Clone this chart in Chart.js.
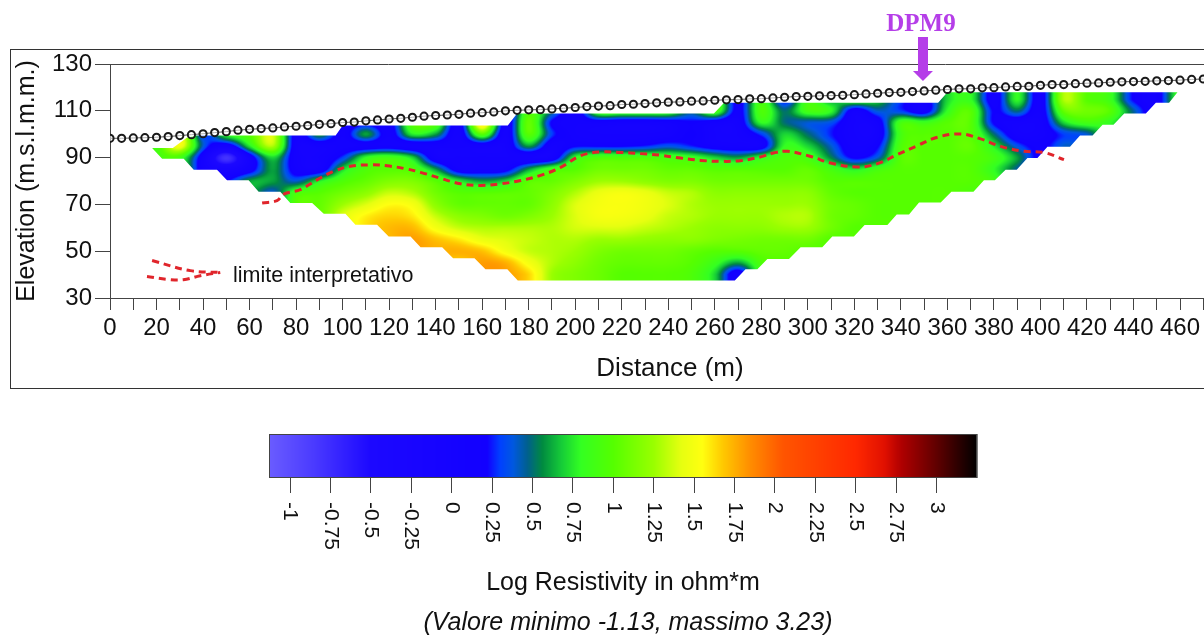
<!DOCTYPE html>
<html>
<head>
<meta charset="utf-8">
<title>Log Resistivity - DPM9</title>
<script src="https://cdn.jsdelivr.net/npm/chart.js@4"></script>
<style>
  body { margin: 0; background: #fff; overflow: hidden; }
  #wrap { position: relative; width: 1204px; height: 637px; overflow: hidden; }
  #frame { position: absolute; left: 10px; top: 49px; width: 1300px; height: 340px; border: 1px solid #333; box-sizing: border-box; }
  canvas { position: absolute; left: 0; }
  #section { top: 0; }
  #scaleBar { top: 410px; }
</style>
</head>
<body>
<div id="wrap">
  <div id="frame"></div>
  <!-- wider than the window: the axis runs off the right edge in the original -->
  <canvas id="section" width="1230" height="395"></canvas>
  <canvas id="scaleBar" width="1204" height="227"></canvas>
</div>
<script>
const N = null;

// electrodes: one every 5 m, from 0 m
const electrodeElev = [
  98.25,98.25,98.4,98.5,98.7,99,99.4,99.8,100.2,100.7,101.1,101.7,102.1,102.4,102.7,103.1,103.4,103.7,104.2,104.5,105,105.2,105.7,106.1,106.5,106.8,
  107.25,107.7,108,108.2,108.5,109,109.2,109.5,110,110.2,110.4,110.5,110.8,111.1,111.4,111.8,112,112.2,112.7,112.8,113.1,113.4,113.7,113.8,114.1,114.2,114.5,114.7,114.8,115.1,115.2,115.5,115.8,116.1,116.2,116.4,
  116.5,116.6,116.9,117.2,117.5,117.8,117.9,118.2,118.5,118.8,119.1,119.4,119.4,119.8,119.9,120.2,120.4,120.5,120.9,121.2,121.2,121.6,121.8,121.9,122.2,122.4,122.5,122.6,122.8,122.9,123.1,123.4,123.6
];

// log resistivity read from the section
const gridDist = [20,30,40,50,60,70,80,90,100,110,120,130,140,150,160,170,180,190,200,210,220,230,240,250,260,270,280,290,300,310,320,330,340,350,360,370,380,390,400,410,420,430,440,450,460];
const gridElev = [115,110,105,100,95,90,85,80,75,70,65,60,55,50,45,40];
const logRes = [
  [N,N,N,N,N,N,N,N,N,N,N,N,N,N,N,N,N,N,N,N,N,N,N,N,1.0,.15,.9,.2,.9,.6,.9,.7,.3,.1,.7,.8,.1,.8,.1,1.3,1.0,.85,.2,.1,.9],
  [N,N,N,N,N,N,N,N,N,N,N,N,N,N,N,N,.95,.5,.05,.95,.95,.95,.9,.5,.95,.15,.95,.5,.9,.8,.1,.4,.3,.1,.8,1.0,.2,.5,.1,1.05,1.1,1.0,.45,N,N],
  [N,N,N,N,N,N,N,N,.1,.15,.1,1.0,1.0,.1,1.7,.1,1.05,.2,.05,.1,.05,.05,.1,.2,.1,.05,.8,.5,.4,.35,0,.1,.9,.85,1.0,1.0,.2,.05,.05,.7,.9,.8,N,N,N],
  [N,N,.3,.8,1.0,1.4,.1,.6,.1,.6,.1,.75,.6,.05,1.0,.05,1.0,.3,.05,0,0,0,.05,.2,0,0,.3,.7,.5,.25,0,.05,.9,1.0,1.0,1.0,.5,.05,.05,.3,.4,N,N,N,N],
  [.9,1.5,.4,.05,.75,1.3,.05,.02,.05,.1,.1,.05,.05,0,.05,0,.6,.05,.2,.2,.2,.25,.35,.25,.1,.05,.1,.8,.7,.4,.05,.2,.95,1.0,1.0,1.05,.75,.35,.15,.4,N,N,N,N,N],
  [.9,.9,.05,-.8,.05,.7,.05,0,.3,.8,.9,.7,.05,0,0,0,0,.05,.8,.95,.95,.95,.9,.85,.7,.6,.8,.95,.9,.55,.2,.4,1.0,1.0,1.0,1.0,.9,.6,N,N,N,N,N,N,N],
  [N,N,.05,-.2,.1,.6,.1,.05,.7,.95,1.0,.95,.6,.1,.1,.15,.6,.9,1.0,1.1,1.1,1.1,1.05,1.05,1.0,1.0,1.0,1.0,1.05,.9,.75,.9,1.0,1.0,1.0,1.0,.8,.45,N,N,N,N,N,N,N],
  [N,N,N,.2,.6,.6,.4,.75,.95,1.05,1.15,1.15,1.0,.75,.6,.7,1.0,1.05,1.15,1.25,1.25,1.2,1.15,1.15,1.1,1.1,1.1,1.1,1.1,1.0,1.0,1.0,1.0,1.0,1.0,1.0,.9,N,N,N,N,N,N,N,N],
  [N,N,N,N,N,.4,.9,1.0,1.1,1.2,1.35,1.3,1.1,1.0,1.0,1.02,1.05,1.15,1.3,1.45,1.5,1.45,1.35,1.3,1.2,1.2,1.2,1.2,1.2,1.05,1.0,1.0,1.0,1.0,1.0,.95,N,N,N,N,N,N,N,N,N],
  [N,N,N,N,N,N,1.0,1.05,1.25,1.4,1.55,1.5,1.2,1.05,1.05,1.05,1.05,1.2,1.4,1.5,1.52,1.48,1.4,1.3,1.25,1.25,1.25,1.25,1.25,1.1,1.05,1.0,1.0,1.0,N,N,N,N,N,N,N,N,N,N,N],
  [N,N,N,N,N,N,N,N,1.4,1.58,1.65,1.6,1.35,1.2,1.15,1.1,1.15,1.25,1.4,1.5,1.5,1.45,1.35,1.3,1.25,1.25,1.25,1.3,1.3,1.1,1.05,1.0,1.0,N,N,N,N,N,N,N,N,N,N,N,N],
  [N,N,N,N,N,N,N,N,N,1.62,1.72,1.72,1.5,1.35,1.3,1.3,1.3,1.3,1.38,1.4,1.4,1.35,1.3,1.25,1.2,1.2,1.2,1.25,1.25,1.1,1.0,1.0,N,N,N,N,N,N,N,N,N,N,N,N,N],
  [N,N,N,N,N,N,N,N,N,N,N,1.8,1.7,1.6,1.45,1.4,1.35,1.3,1.3,1.25,1.25,1.22,1.2,1.2,1.15,1.12,1.1,1.1,1.1,1.0,1.0,N,N,N,N,N,N,N,N,N,N,N,N,N,N],
  [N,N,N,N,N,N,N,N,N,N,N,N,1.75,1.75,1.7,1.5,1.35,1.3,1.25,1.15,1.1,1.1,1.1,1.05,1.0,1.0,1.05,1.05,1.0,N,N,N,N,N,N,N,N,N,N,N,N,N,N,N,N],
  [N,N,N,N,N,N,N,N,N,N,N,N,N,1.65,1.8,1.75,1.5,1.3,1.2,1.1,1.05,1.05,1.05,1.0,.85,.6,.95,1.0,N,N,N,N,N,N,N,N,N,N,N,N,N,N,N,N,N],
  [N,N,N,N,N,N,N,N,N,N,N,N,N,N,N,1.8,1.65,1.25,1.15,1.08,1.0,1.0,1.0,.95,.7,.05,.9,N,N,N,N,N,N,N,N,N,N,N,N,N,N,N,N,N,N]
];

// outline of the inverted section
const meshDist = [18.1,27,33,37,97,100,171,175,259.6,264,356,360,458.9,455.3,449.6,445.3,436,431.4,426.7,422.4,417,412.7,403,398.7,394.4,389.8,385,380.4,375.7,371.2,361.7,357.1,347.8,343.5,338.2,334.2,324.4,319.8,310.5,306.2,296.9,291.9,282.6,278.3,273.2,268.6,175.3,170.8,161.4,156.7,147.5,142.8,133.5,129.2,119.8,114.8,105.5,101.2,91.9,86.9,77.5,73.2,63.9,59.6,50.3,46,36,31.7,22.4];
const meshElev = [94.1,94.1,98.5,99.4,99.4,103.7,103.7,108.8,108.8,113.4,113.4,117.9,117.9,113.4,113.4,108.8,108.8,104,104,99.4,99.4,94.6,94.6,89.8,89.8,84.8,84.8,80.3,80.3,75.4,75.4,70.8,70.8,65.7,65.7,61.2,61.2,56.3,56.3,51.7,51.7,46.7,46.7,42.3,42.3,37.5,37.5,42.3,42.3,47,47,51.7,51.7,56.3,56.3,61.3,61.3,66,66,70.6,70.6,75.4,75.4,80.3,80.3,84.8,84.8,89.5,89.5];

// red dashed limit
const limitDist = [65.4,71.8,74.7,81.8,89,96.1,103.4,112,119.1,127.7,133.5,142,150.7,159.3,167.9,176.5,185.1,193.7,202.3,210.9,219.5,228.1,236.7,245.3,253.9,262.5,271.1,279.7,285.3,291.2,301.2,309.8,321.3,329.9,338.5,347.1,355.7,365.7,374.3,382.9,392.9,401.5,410.1];
const limitElev = [70.6,71.6,74.4,76.3,80.5,84.1,86.3,86.9,86.5,85.1,83.7,81.2,78.8,78.1,78.8,80.2,82.4,85.8,90.8,92.4,92.2,91.7,91,89.8,88.8,88.4,88.7,90.3,92,92.7,90.5,87.7,86,87.4,91.3,95.1,98.7,100.1,98,94.8,92.7,92.2,89.1];

// the two little curves next to the note
const keyUpperDist = [18.1,34.5,47.4];
const keyUpperElev = [46,41.7,40.9];
const keyLowerDist = [15.9,24.5,31.5,38.8,47.4];
const keyLowerElev = [39.2,38,37.8,39.5,40.9];

// colour scale
const rampValues = [-1.13,-.85,-.5,.22,.3,.38,.47,.56,.68,.8,1,1.25,1.42,1.55,1.68,1.85,2.05,2.5,2.68,2.78,3,3.25];
const rampColors = ['#6a5cff','#4a3aff','#1c08ff','#1200ff','#0040ff','#0058e0','#00608c','#008a40','#16cc38','#33ff22','#55ff00','#99ff00','#e6ff10','#ffff10','#ffc800','#ff8c00','#ff5500','#ff2800','#e01000','#b00000','#600000','#000000'];
const barTicks = [-1,-.75,-.5,-.25,0,.25,.5,.75,1,1.25,1.5,1.75,2,2.25,2.5,2.75,3];

const rampRgb = rampColors.map(c => [1,3,5].map(i => parseInt(c.substr(i,2),16)));
function rampColor(v) {
  if (v <= rampValues[0]) return rampRgb[0];
  for (let i = 1; i < rampValues.length; i++) {
    if (v <= rampValues[i]) {
      const t = (v-rampValues[i-1])/(rampValues[i]-rampValues[i-1]);
      return rampRgb[i].map((c,k) => rampRgb[i-1][k]+(c-rampRgb[i-1][k])*t);
    }
  }
  return rampRgb[rampRgb.length-1];
}

// blanks outside the mesh take the closest reading, only so the smoothing has neighbours
const filled = logRes.map(r => r.slice());
gridDist.forEach((_,c) => {
  for (let r = 0; r < filled.length; r++) {
    if (filled[r][c] !== N) continue;
    for (let k = 1; k < filled.length; k++) {
      const a = filled[r+k] ? logRes[r+k][c] : N, b = r-k >= 0 ? logRes[r-k][c] : N;
      if (a !== N) { filled[r][c] = a; break; }
      if (b !== N) { filled[r][c] = b; break; }
    }
  }
});
filled.forEach(row => {
  row.forEach((v,c) => {
    if (v !== N) return;
    for (let k = 1; k < row.length; k++) {
      const a = row[c+k], b = row[c-k];
      if (a !== undefined && a !== N) { row[c] = a; break; }
      if (b !== undefined && b !== N) { row[c] = b; break; }
    }
  });
});

function cr(a,b,c,d,t) {
  return b + .5*t*(c-a + t*(2*a-5*b+4*c-d + t*(3*(b-c)+d-a)));
}
function sampleRes(dist, elev) {
  const fx = Math.min(Math.max((dist-gridDist[0])/10,0),gridDist.length-1);
  const fy = Math.min(Math.max((gridElev[0]-elev)/5,0),gridElev.length-1);
  const ix = Math.min(Math.floor(fx),gridDist.length-2), iy = Math.min(Math.floor(fy),gridElev.length-2);
  const vals = [];
  for (let j = -1; j <= 2; j++) {
    const row = filled[Math.min(Math.max(iy+j,0),gridElev.length-1)];
    const g = k => row[Math.min(Math.max(ix+k,0),gridDist.length-1)];
    vals.push(cr(g(-1),g(0),g(1),g(2),fx-ix));
  }
  return cr(vals[0],vals[1],vals[2],vals[3],fy-iy);
}

const heatPlugin = {
  id: 'heat',
  beforeDatasetsDraw(chart) {
    const {ctx, chartArea: a, scales: {x, y}} = chart;
    const w = Math.ceil(a.right-a.left), h = Math.ceil(a.bottom-a.top);
    const off = document.createElement('canvas');
    off.width = w; off.height = h;
    const oc = off.getContext('2d');
    const img = oc.createImageData(w,h);
    for (let j = 0; j < h; j++) {
      const el = y.getValueForPixel(a.top+j+.5);
      for (let i = 0; i < w; i++) {
        const rgb = rampColor(sampleRes(x.getValueForPixel(a.left+i+.5),el));
        const p = (j*w+i)*4;
        img.data[p] = rgb[0]; img.data[p+1] = rgb[1]; img.data[p+2] = rgb[2]; img.data[p+3] = 255;
      }
    }
    oc.putImageData(img,0,0);
    ctx.save();
    ctx.beginPath();
    meshDist.forEach((d,i) => {
      const px = x.getPixelForValue(d), py = y.getPixelForValue(meshElev[i]);
      if (i) ctx.lineTo(px,py); else ctx.moveTo(px,py);
    });
    ctx.closePath();
    ctx.clip();
    ctx.drawImage(off,a.left,a.top);
    ctx.restore();
  },
  afterDraw(chart) {
    const {ctx, chartArea: a, scales: {x, y}} = chart;
    // line along the top of the plot
    ctx.save();
    ctx.strokeStyle = '#444';
    ctx.lineWidth = 1;
    ctx.beginPath();
    ctx.moveTo(a.left,Math.round(a.top)+.5);
    ctx.lineTo(a.right,Math.round(a.top)+.5);
    ctx.stroke();
    // notes
    ctx.fillStyle = '#111';
    ctx.textBaseline = 'middle';
    ctx.textAlign = 'left';
    ctx.font = '21.5px "Liberation Sans"';
    ctx.fillText('limite interpretativo',233,276);
    ctx.textAlign = 'center';
    ctx.font = '26px "Liberation Sans"';
    ctx.fillText('Distance (m)',670,369);
    // DPM9 arrow
    const ax = x.getPixelForValue(349.5);
    ctx.fillStyle = '#b53ee8';
    ctx.font = 'bold 25px "Liberation Serif"';
    ctx.fillText('DPM9',ax-2,25);
    ctx.beginPath();
    ctx.moveTo(ax-5,37); ctx.lineTo(ax+5,37); ctx.lineTo(ax+5,71); ctx.lineTo(ax+10,71);
    ctx.lineTo(ax,81); ctx.lineTo(ax-10,71); ctx.lineTo(ax-5,71);
    ctx.closePath();
    ctx.fill();
    ctx.restore();
  }
};

Chart.defaults.font.family = '"Liberation Sans", Arial, sans-serif';
Chart.defaults.color = '#111';

const pts = (xs, ys) => xs.map((d,i) => ({x: d, y: ys[i]}));
const redLine = {showLine: true, borderColor: '#e0252b', borderWidth: 3, borderDash: [7,5], pointRadius: 0, tension: .4, clip: false};

new Chart(document.getElementById('section'), {
  type: 'scatter',
  data: {
    datasets: [
      {
        label: 'Elettrodi',
        data: electrodeElev.map((e,i) => ({x: i*5, y: e})),
        showLine: true, borderColor: '#555', borderWidth: 1,
        pointRadius: 3.6, pointBorderWidth: 2, pointBorderColor: '#1a1a1a', pointBackgroundColor: 'rgba(255,255,255,.55)'
      },
      Object.assign({label: 'limite interpretativo', data: pts(limitDist,limitElev)}, redLine),
      Object.assign({label: 'key 1', data: pts(keyUpperDist,keyUpperElev)}, redLine),
      Object.assign({label: 'key 2', data: pts(keyLowerDist,keyLowerElev)}, redLine)
    ]
  },
  options: {
    responsive: false,
    animation: false,
    layout: {padding: {left: 12, top: 64, right: 0, bottom: 0}},
    plugins: {legend: {display: false}, tooltip: {enabled: false}},
    scales: {
      x: {
        type: 'linear', min: 0, max: 478.9,
        afterFit: s => { s.height = 97; },
        border: {color: '#444'},
        grid: {drawOnChartArea: false, color: '#444', tickLength: 12},
        ticks: {
          stepSize: 10, includeBounds: false, autoSkip: false, maxRotation: 0, padding: 4,
          font: {size: 24}, color: '#111',
          callback: v => v % 20 === 0 ? String(v) : ''
        }
      },
      y: {
        min: 30, max: 130,
        afterFit: s => { s.width = 98; },
        border: {color: '#444'},
        grid: {drawOnChartArea: false, color: '#444', tickLength: 15},
        ticks: {stepSize: 20, includeBounds: false, padding: 3, font: {size: 24}, color: '#111'},
        title: {display: true, text: 'Elevation (m.s.l.m.m.)', font: {size: 25}, color: '#111', padding: 0}
      }
    }
  },
  plugins: [heatPlugin]
});

const barPlugin = {
  id: 'bar',
  beforeDatasetsDraw(chart) {
    const {ctx, chartArea: a, scales: {x}} = chart;
    for (let px = a.left; px < a.right; px++) {
      const rgb = rampColor(x.getValueForPixel(px+.5));
      ctx.fillStyle = 'rgb('+rgb.map(Math.round).join(',')+')';
      ctx.fillRect(px,a.top,1.5,a.bottom-a.top);
    }
  },
  afterDraw(chart) {
    const {ctx, chartArea: a, scales: {x}} = chart;
    ctx.save();
    ctx.strokeStyle = '#444';
    ctx.strokeRect(a.left+.5,a.top+.5,a.right-a.left-1,a.bottom-a.top-1);
    ctx.fillStyle = '#111';
    // tick labels read downwards, Chart.js would hang them upwards over the bar
    ctx.font = '21px "Liberation Sans"';
    ctx.textAlign = 'left';
    ctx.textBaseline = 'middle';
    barTicks.forEach(v => {
      ctx.save();
      ctx.translate(x.getPixelForValue(v),a.bottom+24);
      ctx.rotate(Math.PI/2);
      ctx.fillText(String(v),0,0);
      ctx.restore();
    });
    ctx.font = 'italic 25px "Liberation Sans"';
    ctx.textAlign = 'center';
    ctx.fillText('(Valore minimo -1.13, massimo 3.23)',628,213);
    ctx.restore();
  }
};

new Chart(document.getElementById('scaleBar'), {
  type: 'scatter',
  data: {datasets: [{label: 'scala', data: []}]},
  options: {
    responsive: false,
    animation: false,
    layout: {padding: {left: 269, right: 227, top: 24, bottom: 0}},
    plugins: {legend: {display: false}, tooltip: {enabled: false}},
    scales: {
      x: {
        type: 'linear', min: -1.13, max: 3.25,
        afterFit: s => { s.height = 159; },
        afterBuildTicks: s => { s.ticks = barTicks.map(v => ({value: v})); },
        border: {display: false},
        grid: {drawOnChartArea: false, color: '#444', tickLength: 15},
        ticks: {display: false, stepSize: .25, includeBounds: false, autoSkip: false},
        title: {display: true, text: 'Log Resistivity in ohm*m', font: {size: 25}, color: '#111', padding: {top: 0, bottom: 39}}
      },
      y: {display: false, min: 0, max: 1}
    }
  },
  plugins: [barPlugin]
});
</script>
</body>
</html>
